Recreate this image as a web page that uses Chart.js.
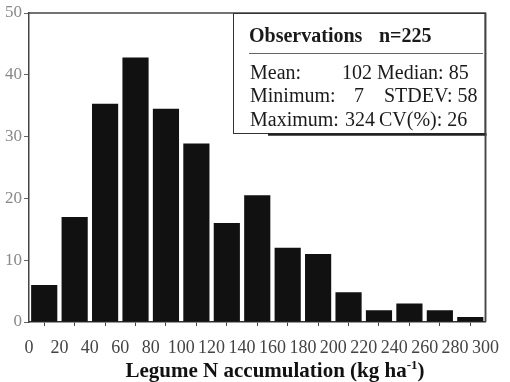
<!DOCTYPE html>
<html><head><meta charset="utf-8">
<script src="https://cdn.jsdelivr.net/npm/chart.js@4.4.1/dist/chart.umd.min.js"></script>
<style>html,body{margin:0;padding:0;background:#fff}#wrap{width:510px;height:382px;position:relative}</style>
</head><body><div id="wrap"><canvas id="c" width="510" height="382"></canvas></div>
<script>
// ---- data ----
const binStarts = [0, 20, 40, 60, 80, 100, 120, 140, 160, 180, 200, 220, 240, 260, 280];
const binWidth = 20;
const counts = [6, 17, 35.3, 42.8, 34.5, 28.9, 16, 20.5, 12, 11, 4.8, 1.9, 3, 1.9, 0.8];
const xTicks = [0, 20, 40, 60, 80, 100, 120, 140, 160, 180, 200, 220, 240, 260, 280, 300];
const yTicks = [0, 10, 20, 30, 40, 50];
const statsHeader = ["Observations", "n=225"];
const statsLabels = ["Mean:", "Minimum:", "Maximum:"];
const statsValues = ["102", "7", "324"];
const statsRight = ["Median: 85", "STDEV: 58", "CV(%): 26"];
const xTitleMain = "Legume N accumulation (kg ha";
const xTitleSup = "-1";
const xTitleEnd = ")";

const SERIF = "'Liberation Serif', 'Times New Roman', serif";
Chart.defaults.font.family = SERIF;

const framePlugin = {
  id: 'frame',
  afterDatasetsDraw(chart) {
    const {ctx, chartArea: a} = chart;
    ctx.save();
    ctx.strokeStyle = '#444';
    ctx.lineWidth = 1.5;
    ctx.beginPath();
    ctx.moveTo(a.left, a.top); ctx.lineTo(a.right, a.top); ctx.lineTo(a.right, a.bottom);
    ctx.stroke();
    ctx.restore();
  },
  afterDraw(chart) {
    const {ctx, chartArea: a} = chart;
    ctx.save();
    // stats box
    const bx = 233, by = a.top, bw = a.right - 233, bh = 120;
    ctx.fillStyle = '#fff';
    ctx.fillRect(bx, by, bw, bh);
    ctx.strokeStyle = '#333';
    ctx.lineWidth = 1;
    ctx.strokeRect(bx + 0.5, by + 0.5, bw - 1, bh);
    ctx.strokeStyle = '#222';
    ctx.lineWidth = 2.5;
    ctx.beginPath(); ctx.moveTo(268, by + bh + 1.5); ctx.lineTo(a.right + 1, by + bh + 1.5); ctx.stroke();
    ctx.lineWidth = 1.5; ctx.strokeStyle = '#444';
    ctx.beginPath(); ctx.moveTo(a.right, a.top); ctx.lineTo(a.right, a.bottom); ctx.stroke();
    // separator
    ctx.strokeStyle = '#666'; ctx.lineWidth = 1;
    ctx.beginPath(); ctx.moveTo(249, 53.5); ctx.lineTo(483, 53.5); ctx.stroke();
    // header
    ctx.fillStyle = '#1a1a1a';
    ctx.textBaseline = 'alphabetic';
    ctx.font = 'bold 20px ' + SERIF;
    ctx.textAlign = 'left';
    ctx.fillText(statsHeader[0], 249, 42);
    ctx.fillText(statsHeader[1], 379, 42);
    // rows
    ctx.font = '20px ' + SERIF;
    const ys = [79, 102, 126];
    const valRight = [372, 364, 375];
    const rightX = [377, 384, 379];
    for (let i = 0; i < 3; i++) {
      ctx.textAlign = 'left';
      ctx.fillText(statsLabels[i], 250, ys[i]);
      ctx.textAlign = 'right';
      ctx.fillText(statsValues[i], valRight[i], ys[i]);
      ctx.textAlign = 'left';
      ctx.fillText(statsRight[i], rightX[i], ys[i]);
    }
    // axis title with superscript
    const fMain = 'bold 21px ' + SERIF, fSup = 'bold 13px ' + SERIF;
    ctx.font = fMain; const w1 = ctx.measureText(xTitleMain).width; const w3 = ctx.measureText(xTitleEnd).width;
    ctx.font = fSup; const w2 = ctx.measureText(xTitleSup).width;
    const total = w1 + w2 + w3;
    let x = 275 - total / 2;
    const base = 377;
    ctx.fillStyle = '#111';
    ctx.textAlign = 'left';
    ctx.font = fMain; ctx.fillText(xTitleMain, x, base); x += w1;
    ctx.font = fSup; ctx.fillText(xTitleSup, x, base - 8); x += w2;
    ctx.font = fMain; ctx.fillText(xTitleEnd, x, base);
    ctx.restore();
  }
};

new Chart(document.getElementById('c'), {
  type: 'bar',
  data: {
    datasets: [{
      data: binStarts.map((s, i) => ({x: s + binWidth / 2, y: counts[i]})),
      backgroundColor: '#111',
      borderWidth: 0,
      barPercentage: 0.86,
      categoryPercentage: 1
    }]
  },
  options: {
    responsive: false,
    animation: false,
    layout: {padding: {left: 0, right: 14, top: 13, bottom: 0}},
    plugins: {legend: {display: false}, tooltip: {enabled: false}},
    scales: {
      x: {
        type: 'linear', min: 0, max: 300, offset: false,
        afterBuildTicks: s => { s.ticks = xTicks.map(v => ({value: v})); },
        afterFit: s => { s.height = 60; },
        ticks: {font: {size: 18}, color: '#444', padding: 11, maxRotation: 0, autoSkip: false},
        grid: {drawOnChartArea: false, drawTicks: true, tickLength: 4, color: '#444'},
        border: {display: true, color: '#333', width: 1.5}
      },
      y: {
        min: 0, max: 50,
        afterBuildTicks: s => { s.ticks = yTicks.map(v => ({value: v})); },
        afterFit: s => { s.width = 29; },
        ticks: {font: {size: 17}, color: '#888', padding: 2},
        grid: {drawOnChartArea: false, drawTicks: true, tickLength: 5, color: '#666'},
        border: {display: true, color: '#444', width: 1.5}
      }
    }
  },
  plugins: [framePlugin]
});
</script>
</body></html>
